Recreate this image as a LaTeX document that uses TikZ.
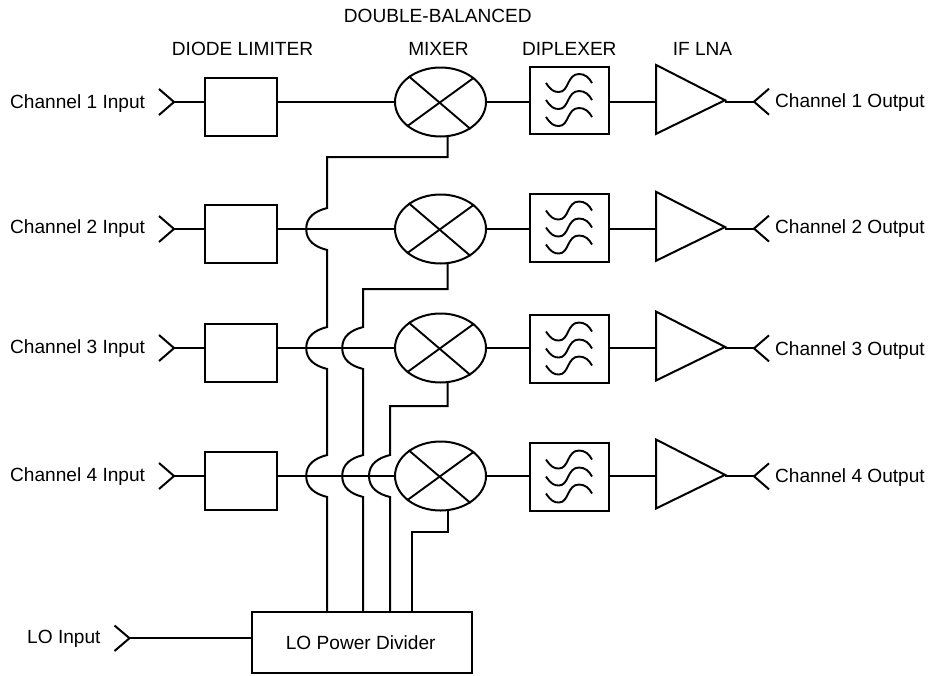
\documentclass[tikz,border=0pt]{standalone}
\usepackage{fontspec}
\setmainfont{Liberation Sans}
\usetikzlibrary{shapes.geometric}
\begin{document}
\begin{tikzpicture}[x=1pt,y=-1pt,line join=miter,
  wire/.style={draw=black,line width=2pt},
  lbl/.style={inner sep=0pt,font=\fontsize{19.1}{21}\selectfont},
  limbox/.style={draw=black,line width=2pt,minimum width=71.5pt,minimum height=58pt,inner sep=0pt},
  filtbox/.style={draw=black,line width=2pt,minimum width=79pt,minimum height=67.5pt,inner sep=0pt},
  mixer/.style={draw=black,line width=2pt,ellipse,minimum width=91pt,minimum height=69pt,inner sep=0pt},
  divbox/.style={draw=black,line width=2pt,minimum width=219.4pt,minimum height=61pt,inner sep=0pt}]
\useasboundingbox (0,0) rectangle (928,675);
\newcommand{\hop}[2]{-- (#1,#2+21) .. controls (#1-12,#2+18) and (#1-21,#2+12) .. (#1-21,#2) .. controls (#1-21,#2-12) and (#1-12,#2-18) .. (#1,#2-21)}
\foreach \i/\y/\ly/\fy/\oy/\ib/\ob in {1/102/107/100.5/101.7/108/107.3, 2/229/234/228/228.6/233.3/233, 3/348/353/349/348.3/353.3/355, 4/476/481/477/476.3/481/482.7}{
  \coordinate (in\i) at (174,\y);
  \coordinate (out\i) at (754,\oy);
  \node[limbox] (lim\i) at (241,\ly) {};
  \node[mixer] (mix\i) at (440.5,\y) {};
  \coordinate (mixb\i) at (447.5,\y+34.6);
  \node[filtbox] (dip\i) at (569.5,\fy) {};
  \coordinate (tl\i) at (656,\oy-36.8);
  \coordinate (bl\i) at (656,\oy+32.2);
  \coordinate (tip\i) at (725,\oy-1.5);
  \draw[wire] (tl\i) -- (tip\i) -- (bl\i) -- cycle;
  \draw[wire,line width=1.9pt] (mix\i.141) -- (mix\i.-42);
  \draw[wire,line width=1.9pt] (mix\i.36) -- (mix\i.216);
  \draw[wire] (in\i) -- (in\i -| lim\i.west);
  \draw[wire] (in\i -| lim\i.east) -- (mix\i.west);
  \draw[wire] (mix\i.east) -- (mix\i.east -| dip\i.west);
  \draw[wire] (mix\i.east -| dip\i.east) -- (mix\i.east -| tl\i);
  \draw[wire] (out\i -| tip\i) -- (out\i);
  \draw[wire] (159,\y-13) -- (in\i) -- (159,\y+13);
  \draw[wire] (769,\oy-13) -- (out\i) -- (769,\oy+13);
  \foreach \d in {-17,0,17}{
    \draw[wire,line width=1.9pt] (546,\fy-0.5+\d) .. controls (551,\fy+7+\d) and (554,\fy+8.5+\d) .. (559,\fy+8.5+\d)
      .. controls (569,\fy+8.5+\d) and (567,\fy-9.5+\d) .. (579,\fy-9.5+\d)
      .. controls (585,\fy-9.5+\d) and (589,\fy-6+\d) .. (592,\fy-0.5+\d);
  }
  \node[lbl,anchor=base west] (inl\i) at (10,\ib) {Channel \i{} Input};
  \node[lbl,anchor=base east] (outl\i) at (925,\ob) {Channel \i{} Output};
}
\node[divbox] (div) at (362,642.2) {};
\node[lbl,anchor=base] (divl) at (360.7,649.3) {LO Power Divider};
\coordinate (loin) at (129.5,638.2);
\draw[wire] (loin) -- (loin -| div.west);
\draw[wire] (114.5,625.5) -- (loin) -- (114.5,651);
\node[lbl,anchor=base east] (lol) at (100.7,643.3) {LO Input};
\coordinate (d1) at (327.2,611);
\coordinate (d2) at (363.2,611);
\coordinate (d3) at (390,611);
\coordinate (d4) at (411.7,611);
\draw[wire] (d1) \hop{327.2}{476} \hop{327.2}{348} \hop{327.2}{229} -- (327.2,157) -| (mixb1);
\draw[wire] (d2) \hop{363.2}{476} \hop{363.2}{348} -- (363.2,289) -| (mixb2);
\draw[wire] (d3) \hop{390}{476} -- (390,406) -| (mixb3);
\draw[wire] (d4) -- (411.7,532) -| (mixb4);
\node[lbl,anchor=base] (h1) at (437.8,22) {DOUBLE-BALANCED};
\node[lbl,anchor=base] (h2) at (242.5,55) {DIODE LIMITER};
\node[lbl,anchor=base] (h3) at (438.5,55) {MIXER};
\node[lbl,anchor=base] (h4) at (569.3,55) {DIPLEXER};
\node[lbl,anchor=base] (h5) at (702.5,55) {IF LNA};
\end{tikzpicture}
\end{document}
